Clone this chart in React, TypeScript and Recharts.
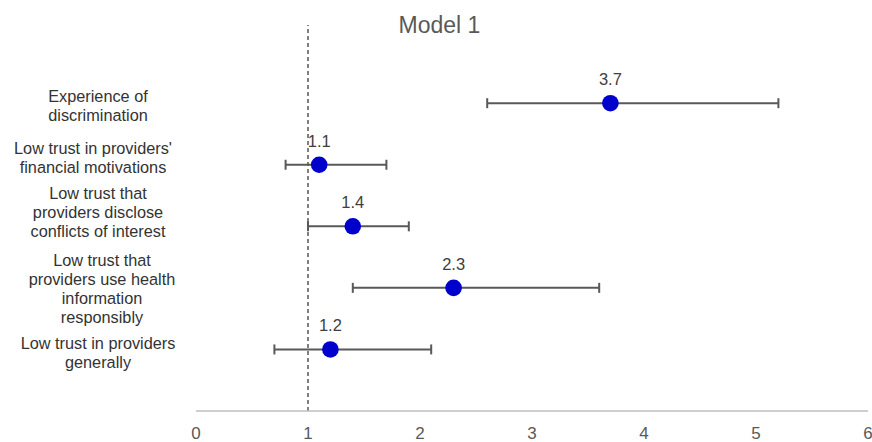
import React from 'react';
import { ScatterChart, Scatter, XAxis, YAxis, ErrorBar, ReferenceLine } from 'recharts';

const categories = [
  ['Experience of', 'discrimination'],
  ["Low trust in providers'", 'financial motivations'],
  ['Low trust that', 'providers disclose', 'conflicts of interest'],
  ['Low trust that', 'providers use health', 'information', 'responsibly'],
  ['Low trust in providers', 'generally'],
];
const oddsRatios = [3.7, 1.1, 1.4, 2.3, 1.2];
const lowerCI = [2.6, 0.8, 1.0, 1.4, 0.7];
const upperCI = [5.2, 1.7, 1.9, 3.6, 2.1];
const xTicks = [0, 1, 2, 3, 4, 5, 6];

// label block nudges (dx, dy) per row, layout only
const labelNudge = [
  [0, 2.5],
  [-5, -7.5],
  [0, -14.5],
  [4, 1],
  [0, 3.5],
];

const FONT = '"Liberation Sans", Arial, sans-serif';
const n = categories.length;

const data = oddsRatios.map((or, i) => ({
  or,
  row: n - i,
  err: [or - lowerCI[i], upperCI[i] - or],
}));

const XTick = (props: any) => {
  const { x, y, payload } = props;
  return (
    <text x={x} y={y} dy={20} textAnchor="middle" fill="#595959" fontSize={17} fontFamily={FONT}>
      {payload.value}
    </text>
  );
};

const YTick = (props: any) => {
  const { y, payload } = props;
  const idx = n - payload.value;
  const lines = categories[idx];
  if (!lines) return null;
  const [dx, dy] = labelNudge[idx];
  const lh = 19;
  const start = y + dy - ((lines.length - 1) * lh) / 2 + 6;
  return (
    <text textAnchor="middle" fill="#333" fontSize={16.3} fontFamily={FONT}>
      {lines.map((l, j) => (
        <tspan key={j} x={98 + dx} y={start + j * lh}>
          {l}
        </tspan>
      ))}
    </text>
  );
};

const Dot = (props: any) => {
  const { cx, cy, payload } = props;
  return (
    <g>
      <circle cx={cx} cy={cy} r={8.3} fill="#0000CC" />
      <text x={cx} y={cy - 18} textAnchor="middle" fill="#404040" fontSize={16.5} fontFamily={FONT}>
        {payload.or}
      </text>
    </g>
  );
};

export default function App() {
  return (
    <div style={{ position: 'absolute', left: 0, top: 0, width: 872, height: 442, background: '#fff' }}>
      <div
        style={{
          position: 'absolute',
          left: 0,
          width: 879,
          top: 14,
          textAlign: 'center',
          fontFamily: FONT,
          fontSize: 23,
          lineHeight: '23px',
          color: '#595959',
        }}
      >
        Model 1
      </div>
      <ScatterChart width={872} height={442} margin={{ top: 25, right: 4, bottom: 0, left: 0 }}>
        <XAxis
          type="number"
          dataKey="or"
          domain={[0, 6]}
          ticks={xTicks}
          tickLine={false}
          axisLine={{ stroke: '#bfbfbf', strokeWidth: 1.5 }}
          tick={<XTick />}
          height={31}
          interval={0}
        />
        <YAxis
          type="number"
          dataKey="row"
          domain={[0, 6.27]}
          ticks={[5, 4, 3, 2, 1]}
          axisLine={false}
          tickLine={false}
          tick={<YTick />}
          width={196}
          interval={0}
        />
        <ReferenceLine x={1} stroke="#000" strokeDasharray="4 3" strokeWidth={1} />
        <Scatter data={data} isAnimationActive={false} shape={() => <g />}>
          <ErrorBar dataKey="err" direction="x" width={5} stroke="#595959" strokeWidth={2} />
        </Scatter>
        <Scatter data={data} isAnimationActive={false} shape={<Dot />} />
      </ScatterChart>
    </div>
  );
}
